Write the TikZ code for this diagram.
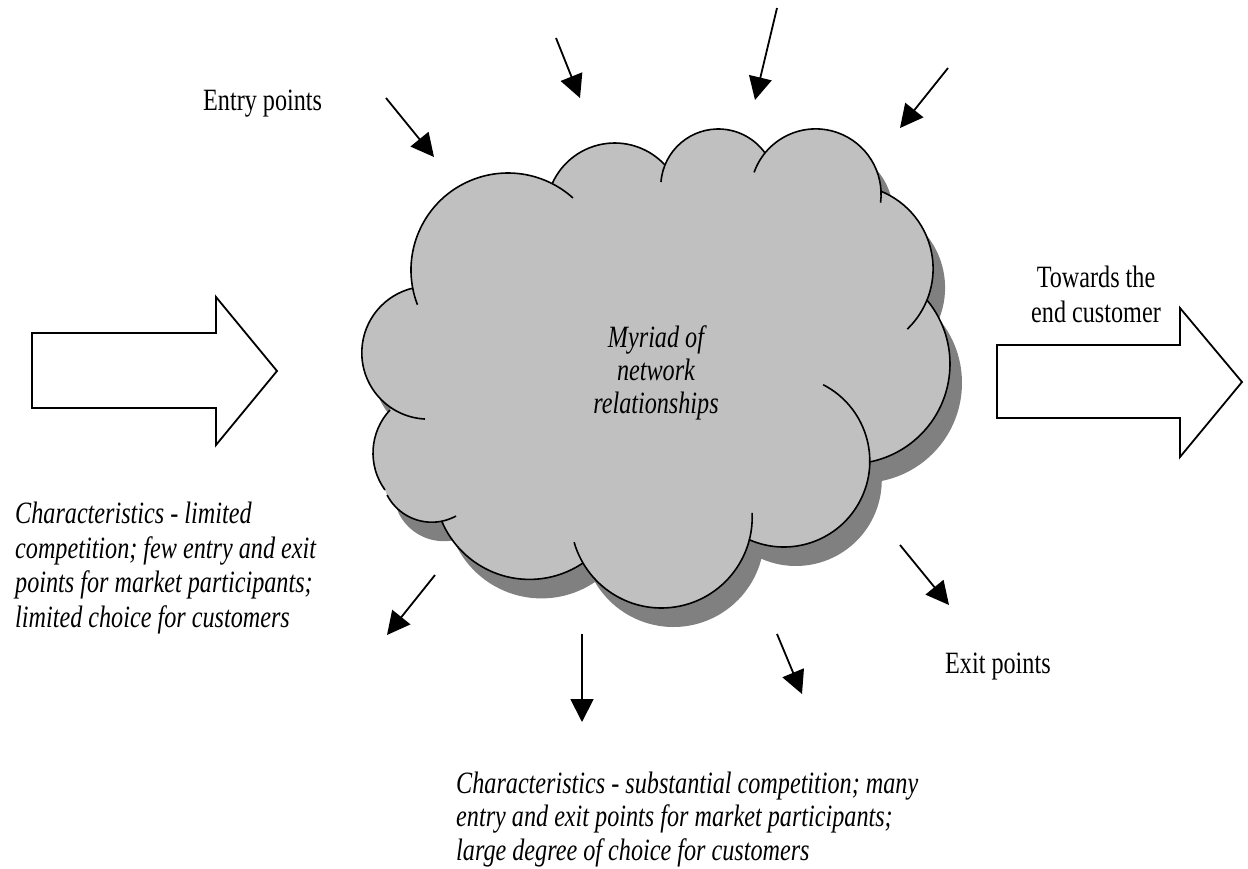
\documentclass[tikz,border=0pt]{standalone}
\usepackage{fontspec}
\setmainfont{Liberation Serif}[FakeStretch=0.78]
\usetikzlibrary{arrows.meta}

\definecolor{cloudgray}{RGB}{192,192,192}
\definecolor{shadowgray}{RGB}{128,128,128}

% bumps of the cloud: centre x/centre y/radius/fill from/fill to/line from/line to
\newcommand{\cloudbumps}{%
  508/270/97/169.3/297.1/159/312,
  614.7/211.4/68.4/203.6/317.3/203.6/317.3,
  718.3/186.5/57.5/202/324.3/184.5/324.3,
  815.7/194.3/65.4/219.2/356.2/199.6/367.4,
  849.5/268.7/83.6/291.8/382/291.8/406.3,
  850/363.9/100/-39.7/78.5/-39.7/78.5,
  783.9/461.1/85.9/0.6/114.1/-62.8/114.1,
  661.4/517.2/90.8/12.6/149.7/-2.7/164,
  529.5/484.1/95.3/55.9/156.6/55.9/156.6,
  431.8/471.8/50.4/78.5/152.6/61.3/152.6,
  435.9/453/62.9/144/223.1/144/223.1,
  428.2/352.7/66.4/123.7/256.8/92.8/256.8}

\begin{document}
\begin{tikzpicture}[x=1pt,y=-1pt,
    every node/.style={font=\fontsize{31}{34.5}\selectfont, inner sep=0pt},
    flow/.style={line width=1.8pt, -{Triangle[length=23pt,width=23pt]}},
    blockarrow/.style={draw, line width=1.8pt, fill=white, line join=miter},
    bump/.style={line width=1.6pt},
    cloud path/.style={insert path={(412.7,288)
        \foreach \cx/\cy/\r/\a/\b/\sa/\sb in \cloudbumps
          {-- ([shift={(\a:\r)}]\cx,\cy) arc[start angle=\a,end angle=\b,radius=\r]}
        -- cycle}},
]
\useasboundingbox (0,0) rectangle (1248,868);

% cloud with its shadow
\fill[shadowgray, shift={(12,19)}, cloud path];
\fill[cloudgray, cloud path];
\foreach \cx/\cy/\r/\a/\b/\sa/\sb in \cloudbumps
  \draw[bump] ([shift={(\sa:\r)}]\cx,\cy) arc[start angle=\sa,end angle=\sb,radius=\r];

% base = last line of a node
\node[align=center, anchor=base, font=\fontsize{31}{33}\selectfont\itshape] (myriad)
  at (656,413) {Myriad of\\network\\relationships};

% big arrows
\draw[blockarrow] (32,333) -- (216,333) -- (216,297) -- (277,371) -- (216,445)
  -- (216,408) -- (32,408) -- cycle;
\draw[blockarrow] (997,345) -- (1180,345) -- (1180,308) -- (1242,382) -- (1180,457)
  -- (1180,418) -- (997,418) -- cycle;

% entry and exit points
\foreach \n/\sx/\sy/\ex/\ey in {in1/386/98/434/157, in2/556/38/580/98,
    in3/777/8/755/100, in4/948/68/900/128, out1/435/575/387/635,
    out2/582/634/582/722, out3/777/634/802/694, out4/900/545/949/605}{
  \coordinate (\n s) at (\sx,\sy);
  \coordinate (\n e) at (\ex,\ey);
  \draw[flow] (\n s) -- (\n e);
}

\node[anchor=base west] (entry) at (203,110) {Entry points};
\node[anchor=base west] (exit) at (945,673) {Exit points};
\node[align=center, anchor=base] (towards) at (1096,322) {Towards the\\end customer};

\node[align=left, anchor=base west, font=\fontsize{31}{34.5}\selectfont\itshape] (few)
  at (15,627) {Characteristics - limited\\competition; few entry and exit\\points for
  market participants;\\limited choice for customers};
\node[align=left, anchor=base west, font=\fontsize{31}{33.5}\selectfont\itshape] (many)
  at (456,860) {Characteristics - substantial competition; many\\entry and exit points
  for market participants;\\large degree of choice for customers};
\end{tikzpicture}
\end{document}
